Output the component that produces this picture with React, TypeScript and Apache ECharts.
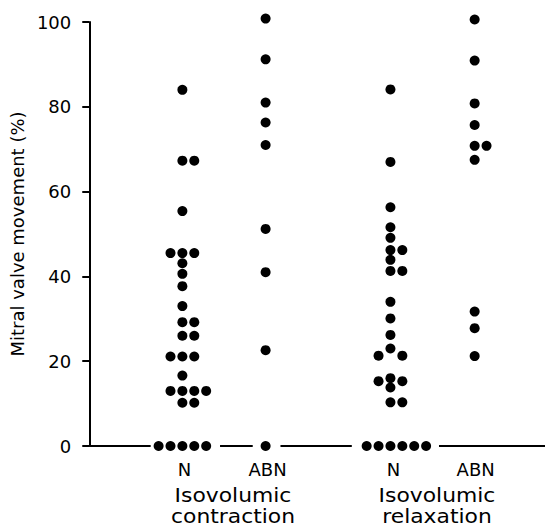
import React, { useEffect, useRef } from "react";
import * as echarts from "echarts";

// Data (mitral valve movement, %)
const nContraction = [84, 67.3, 67.3, 55.4, 45.5, 45.5, 45.5, 43.1, 40.6, 37.7, 33, 29.2, 29.2, 26, 26, 21.1, 21.1, 21.1, 16.6, 13, 13, 13, 13, 10.2, 10.2, 0, 0, 0, 0, 0];
const abnContraction = [100.8, 91.2, 81, 76.3, 71, 51.2, 41, 22.6, 0];
const nRelaxation = [84.1, 67, 56.3, 51.6, 49.1, 46.2, 46.2, 43.9, 41.3, 41.3, 34, 30.1, 26.2, 23, 21.3, 21.3, 16, 15.3, 15.3, 13.8, 10.3, 10.3, 0, 0, 0, 0, 0, 0];
const abnRelaxation = [100.6, 90.9, 80.8, 75.7, 70.8, 70.8, 67.5, 31.7, 27.8, 21.2];

const groupLabels = ["N", "ABN", "N", "ABN"];
const phaseLabels = ["Isovolumic\ncontraction", "Isovolumic\nrelaxation"];
const yTicks = [0, 20, 40, 60, 80, 100];

// layout (x axis in pixel-like units from the y axis)
const groupCenters = [94, 178, 304, 389];
const labelCenters = [96, 180, 307, 390];
const phaseCenters = [233, 437];
const baselineSegments = [[0, 62], [132, 165], [193, 265], [353, 460]];
const PX_PER_UNIT = 424 / 100;
const STEP = 12;

function swarm(values: number[], center: number): number[][] {
  const placed: { x: number; v: number }[] = [];
  const sorted = [...values].sort((a, b) => b - a);
  const out: number[][] = [];
  for (const v of sorted) {
    for (const k of [0, 1, -1, 2, -2, 3, -3, 4, -4]) {
      const x = center + k * STEP;
      const clash = placed.some((p) => {
        const dx = x - p.x;
        const dy = (v - p.v) * PX_PER_UNIT;
        return Math.sqrt(dx * dx + dy * dy) < 9;
      });
      if (!clash) {
        placed.push({ x, v });
        out.push([x, v]);
        break;
      }
    }
  }
  return out;
}

export default function App() {
  const ref = useRef<HTMLDivElement>(null);
  useEffect(() => {
    if (!ref.current) return;
    const chart = echarts.init(ref.current, undefined, { renderer: "svg" });
    const font = "DejaVu Sans";
    const groups = [nContraction, abnContraction, nRelaxation, abnRelaxation];
    const scatterSeries = groups.map((vals, i) => ({
      type: "scatter",
      data: swarm(vals, groupCenters[i]),
      symbol: "circle",
      symbolSize: 10,
      clip: false,
      itemStyle: { color: "#000", opacity: 1 },
      z: 3,
    }));
    const baseSeries = baselineSegments.map((s) => ({
      type: "line",
      data: [[s[0], 0], [s[1], 0]],
      symbol: "none",
      lineStyle: { color: "#000", width: 2 },
      z: 2,
    }));
    chart.setOption({
      animation: false,
      backgroundColor: "#fff",
      grid: { left: 85, right: 0, top: 22, bottom: 81 },
      xAxis: {
        type: "value",
        min: 0,
        max: 460,
        axisLine: { show: false },
        axisTick: { show: false },
        splitLine: { show: false },
        axisLabel: {
          customValues: labelCenters,
          formatter: (v: number) => {
            const i = labelCenters.indexOf(v);
            return i >= 0 ? groupLabels[i] : "";
          },
          color: "#000",
          fontSize: 18,
          fontFamily: font,
          margin: 14,
        },
      },
      yAxis: {
        type: "value",
        min: 0,
        max: 100,
        interval: 20,
        name: "Mitral valve movement (%)",
        nameLocation: "middle",
        nameRotate: 90,
        nameGap: 54,
        nameTextStyle: { color: "#000", fontSize: 18, fontFamily: font },
        axisLine: { show: true, lineStyle: { color: "#000", width: 2 } },
        axisTick: { show: true, length: 7, lineStyle: { color: "#000", width: 2 } },
        splitLine: { show: false },
        axisLabel: {
          color: "#000",
          fontSize: 18,
          fontFamily: font,
          margin: 18,
          formatter: (v: number) => (yTicks.includes(v) ? String(v) : ""),
        },
      },
      graphic: phaseLabels.map((t, i) => ({
        type: "text",
        x: phaseCenters[i],
        y: 484,
        scaleX: 1.15,
        style: {
          text: t,
          fill: "#000",
          font: `19px "${font}"`,
          lineHeight: 22,
          align: "center",
          verticalAlign: "top",
        },
      })),
      series: [...baseSeries, ...scatterSeries],
    });
    return () => chart.dispose();
  }, []);
  return <div ref={ref} style={{ position: "absolute", left: 0, top: 0, width: 545, height: 527 }} />;
}
